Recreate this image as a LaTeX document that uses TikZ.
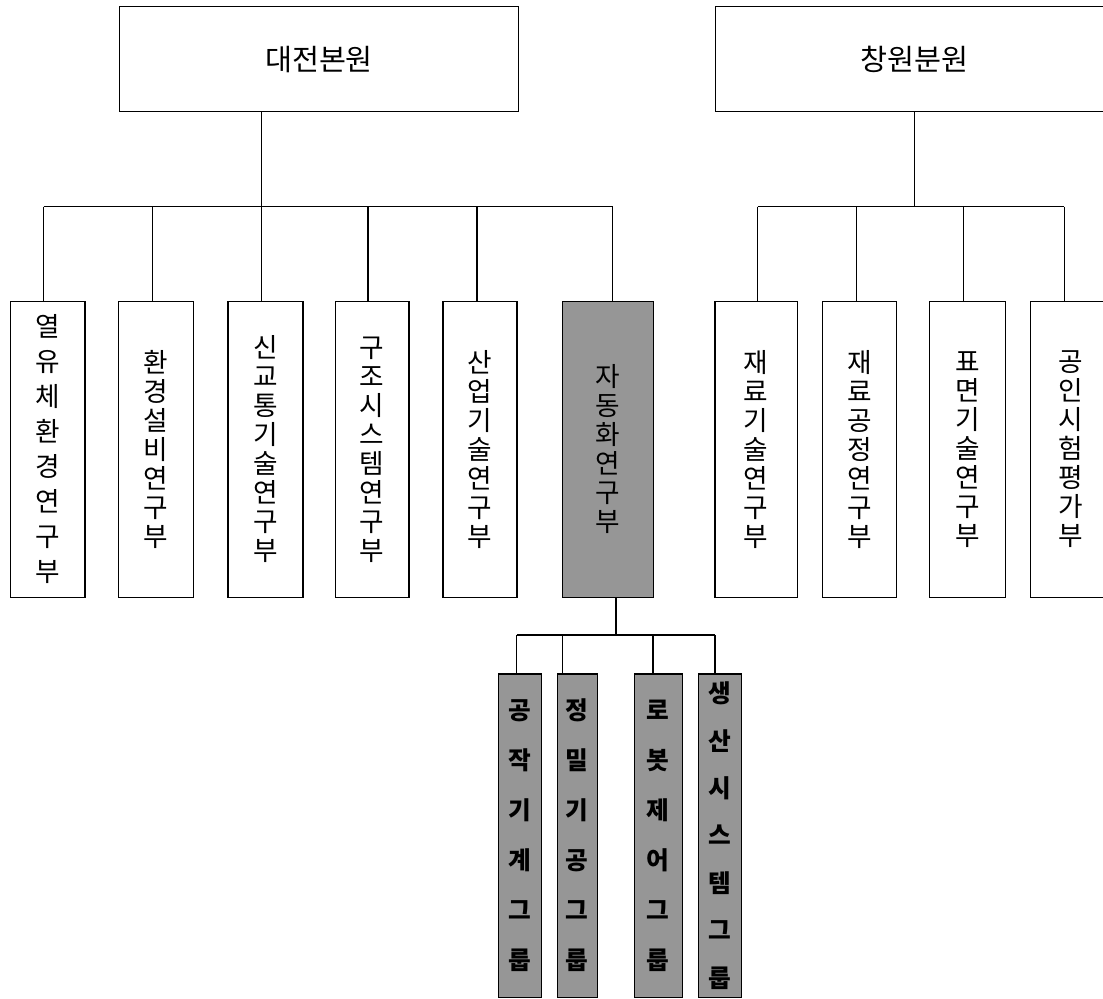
\documentclass[tikz,border=0pt]{standalone}
\usepackage{fontspec}
\newfontfamily\kr{Noto Sans CJK KR}
\definecolor{fillgray}{RGB}{150,150,150}
\begin{document}
\begin{tikzpicture}[x=0.75pt,y=-0.75pt,
  box/.style 2 args={draw, line width=1.1pt, inner sep=0pt, align=center,
    minimum width=#1*0.75pt, minimum height=#2*0.75pt},
  topbox/.style={box={398.8}{105}, font=\kr\fontsize{22}{25}\selectfont},
  unitbox/.style={box={#1}{295.6}, font=\kr\fontsize{20}{21.75}\selectfont},
  shadedunit/.style={unitbox={#1}, fill=fillgray},
  groupbox/.style={box={#1}{323.3}, fill=fillgray, font=\kr\bfseries\fontsize{18.5}{37.5}\selectfont},
  link/.style={line width=0.9pt}]
\useasboundingbox (0,0) rectangle (1103,999);
\clip (0,0) rectangle (1103,999);

% top level
\node[topbox] (dj) at (319,59.2) {대전본원};
\node[topbox] (cw) at (914.8,59.2) {창원분원};

% second level (Daejeon)
\node[unitbox={74.3}, font=\kr\fontsize{20}{26.25}\selectfont] (b1) at (47.85,449.5) {열\\유\\체\\환\\경\\연\\구\\부};
\node[unitbox={75.1}] (b2) at (156.15,449.5) {환\\경\\설\\비\\연\\구\\부};
\node[unitbox={75.1}] (b3) at (265.35,449.5) {신\\교\\통\\기\\술\\연\\구\\부};
\node[unitbox={73.9}] (b4) at (372.25,449.5) {구\\조\\시\\스\\템\\연\\구\\부};
\node[unitbox={74.3}] (b5) at (480.05,449.5) {산\\업\\기\\술\\연\\구\\부};
\node[shadedunit={90.6}] (b6) at (608,449.5) {자\\동\\화\\연\\구\\부};

% second level (Changwon)
\node[unitbox={82.3}] (b7) at (756.15,449.5) {재\\료\\기\\술\\연\\구\\부};
\node[unitbox={74}] (b8) at (859.7,449.5) {재\\료\\공\\정\\연\\구\\부};
\node[unitbox={76.4}] (b9) at (967.5,449.5) {표\\면\\기\\술\\연\\구\\부};
\node[unitbox={80}] (b10) at (1070.7,449.5) {공\\인\\시\\험\\평\\가\\부};

% third level
\node[groupbox={43.4}] (g1) at (520,835.65) {공\\작\\기\\계\\그\\룹};
\node[groupbox={40}] (g2) at (577.3,835.65) {정\\밀\\기\\공\\그\\룹};
\node[groupbox={48}] (g3) at (658.3,835.65) {로\\봇\\제\\어\\그\\룹};
\node[groupbox={43.4}, font=\kr\bfseries\fontsize{18.5}{35.6}\selectfont] (g4) at (720,835.65) {생\\산\\시\\스\\템\\그\\룹};

% Daejeon connectors
\coordinate (djbar) at (261.7,206.7);
\draw[link] (djbar |- dj.south) -- (djbar);
\draw[link] (43.6,206.7) -- (612.7,206.7);
\foreach \x/\n in {43.6/b1,152.6/b2,261.7/b3,367.9/b4,476.9/b5,612.7/b6}
  \draw[link] (\x,206.7) -- (\x,0 |- \n.north);

% Changwon connectors
\coordinate (cwbar) at (914.5,206.7);
\draw[link] (cwbar |- cw.south) -- (cwbar);
\draw[link] (757.6,206.7) -- (1064.3,206.7);
\foreach \x/\n in {757.6/b7,856.1/b8,963.7/b9,1064.3/b10}
  \draw[link] (\x,206.7) -- (\x,0 |- \n.north);

% group connectors
\coordinate (gbar) at (616,635);
\draw[link] (gbar |- b6.south) -- (gbar);
\draw[link] (516.7,635) -- (715,635);
\foreach \x/\n in {516.7/g1,562.3/g2,653/g3,715/g4}
  \draw[link] (\x,635) -- (\x,0 |- \n.north);
\end{tikzpicture}
\end{document}
